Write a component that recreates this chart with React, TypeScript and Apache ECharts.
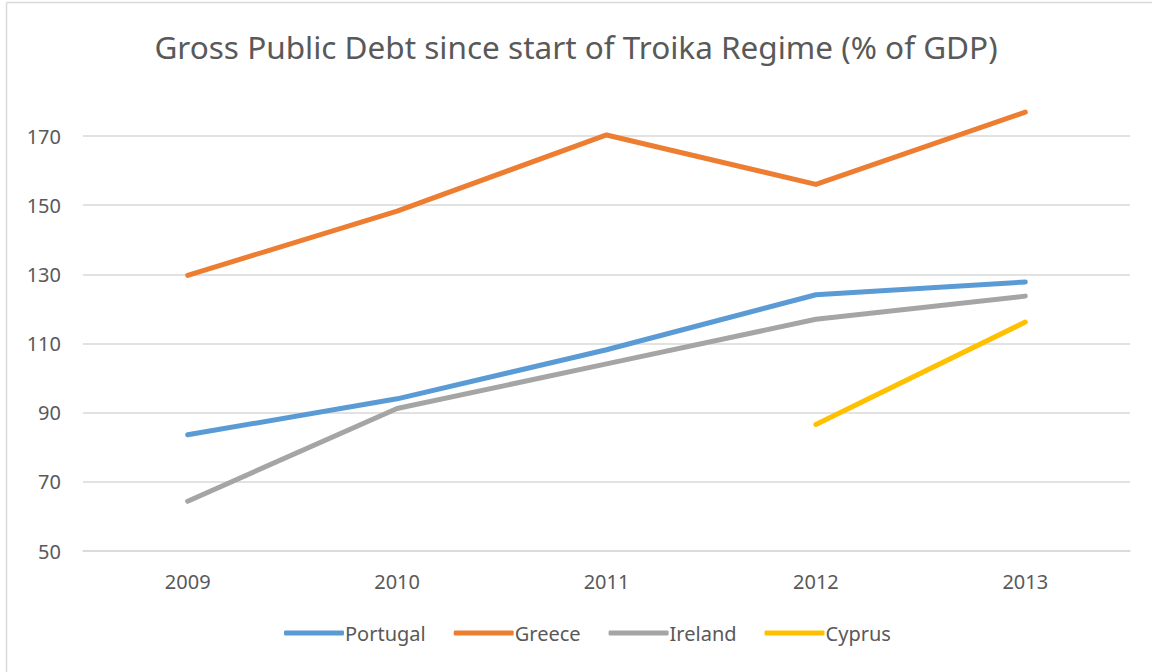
import React, { useEffect, useRef } from "react";
import * as echarts from "echarts";

const years = ["2009", "2010", "2011", "2012", "2013"];
const portugal = [83.6, 94.0, 108.2, 124.1, 127.8];
const greece = [129.7, 148.3, 170.3, 156.0, 176.9];
const ireland = [64.4, 91.2, 104.1, 117.0, 123.7];
const cyprus = [null, null, null, 86.6, 116.2];
const yTicks = { min: 50, max: 170, interval: 20 };

const FONT = "'Noto Sans', 'Open Sans', sans-serif";
const TXT = "#595959";

export default function App() {
  const ref = useRef<HTMLDivElement>(null);
  useEffect(() => {
    if (!ref.current) return;
    const chart = echarts.init(ref.current, undefined, { renderer: "svg" });
    const line = (name: string, data: (number | null)[], color: string) => ({
      name,
      type: "line",
      data,
      clip: false,
      symbol: "none",
      connectNulls: false,
      color,
      lineStyle: { width: 5, color, cap: "round", join: "round" },
    });
    chart.setOption({
      animation: false,
      backgroundColor: "#ffffff",
      textStyle: { fontFamily: FONT },
      title: {
        text: "Gross Public Debt since start of Troika Regime (% of GDP)",
        left: "center",
        top: 25,
        textStyle: { fontFamily: FONT, fontSize: 31.5, fontWeight: "normal", color: TXT },
      },
      graphic: [
        { type: "line", shape: { x1: 6.5, y1: 2.5, x2: 1152, y2: 2.5 }, style: { stroke: "#d9d9d9", lineWidth: 1.5 } },
        { type: "line", shape: { x1: 6.5, y1: 2.5, x2: 6.5, y2: 672 }, style: { stroke: "#d9d9d9", lineWidth: 1.5 } },
      ],
      legend: {
        bottom: 24,
        left: 279,
        itemWidth: 60,
        itemHeight: 5,
        itemGap: 28,
        icon: "roundRect",
        textStyle: { fontFamily: FONT, fontSize: 20, color: TXT, padding: [0, 0, 0, -4] },
        data: ["Portugal", "Greece", "Ireland", "Cyprus"],
      },
      grid: { left: 83, right: 22, top: 136, bottom: 121 },
      xAxis: {
        type: "category",
        data: years,
        boundaryGap: true,
        axisLine: { lineStyle: { color: "#d9d9d9", width: 1.5 } },
        axisTick: { show: false },
        axisLabel: { color: TXT, fontSize: 20, fontFamily: FONT, margin: 20 },
      },
      yAxis: {
        type: "value",
        min: yTicks.min,
        max: yTicks.max,
        interval: yTicks.interval,
        axisLine: { show: false },
        axisTick: { show: false },
        axisLabel: { color: TXT, fontSize: 20, fontFamily: FONT, margin: 22 },
        splitLine: { lineStyle: { color: "#d9d9d9", width: 1.5 } },
      },
      series: [
        line("Portugal", portugal, "#5B9BD5"),
        line("Greece", greece, "#ED7D31"),
        line("Ireland", ireland, "#A5A5A5"),
        line("Cyprus", cyprus, "#FFC000"),
      ],
    });
    return () => chart.dispose();
  }, []);
  return (
    <div
      ref={ref}
      style={{ position: "fixed", left: 0, top: 0, width: 1152, height: 672, background: "#fff" }}
    />
  );
}
